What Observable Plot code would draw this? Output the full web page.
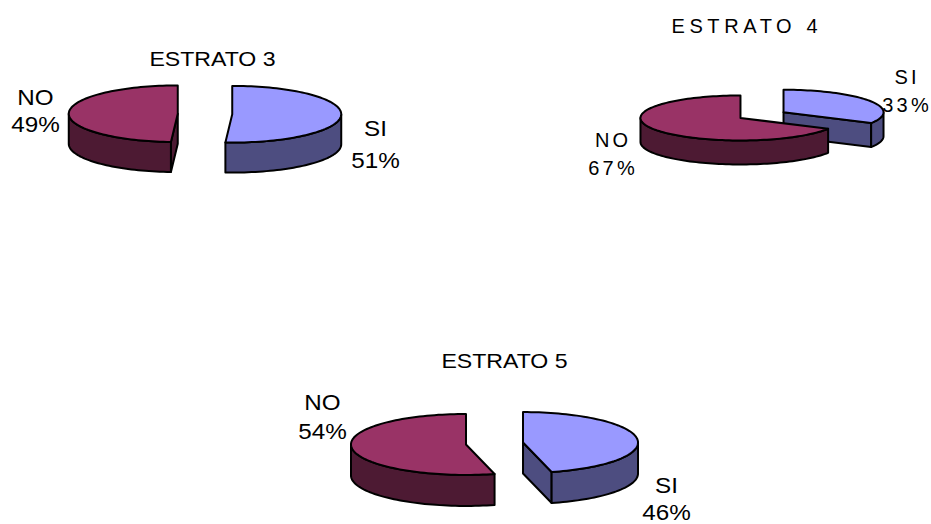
<!DOCTYPE html>
<html>
<head>
<meta charset="utf-8">
<script src="https://cdn.jsdelivr.net/npm/d3@7"></script>
<script src="https://cdn.jsdelivr.net/npm/@observablehq/plot@0.6"></script>
<style>
  html, body { margin: 0; padding: 0; background: #ffffff; }
  #chart svg { display: block; }
</style>
</head>
<body>
<div id="chart"></div>
<script>
// Respuestas SI / NO por estrato (porcentajes)
const estratos = ["ESTRATO 3", "ESTRATO 4", "ESTRATO 5"];
const categorias = ["SI", "NO"];
const si = [51, 33, 46];
const no = [49, 67, 54];

// Colores de cara superior y de costado para cada categoría
const colorTop = { SI: "#9999FF", NO: "#993366" };
const colorSide = { SI: "#4D4D80", NO: "#4D1A33" };

// Disposición de cada torta 3D: centro, radio, inclinación (k), grosor (h),
// separación de porciones y posiciones de los textos.
// ls = espaciado entre letras, sx = ensanche horizontal del texto
const layout = [
  { cx: 204.5, cy: 113.5, rx: 109, k: 0.26, h: 30, explode: 0.25,
    title: [212, 65], titleSize: 21, titleLs: 0, titleSx: 1.1,
    labels: { SI: [375, 135, 167], NO: [35, 104, 131] }, labelSize: 22, labelLs: 0, labelSx: 1.1 },
  { cx: 761.5, cy: 114.6, rx: 100, k: 0.225, h: 24, explode: 0.25,
    title: [744, 32], titleSize: 20, titleLs: 4.6, titleSx: 1,
    labels: { SI: [905, 83, 111], NO: [611, 146, 174] }, labelSize: 20, labelLs: 3.2, labelSx: 1 },
  { cx: 494, cy: 443, rx: 115, k: 0.265, h: 31, explode: 0.25,
    title: [504, 367], titleSize: 21, titleLs: 0, titleSx: 1.1,
    labels: { SI: [666, 492, 519], NO: [322, 409, 438] }, labelSize: 22, labelLs: 0, labelSx: 1.1 }
];

const rad = (d) => (d * Math.PI) / 180;

// Punto sobre el borde de la torta proyectada (ángulo en grados, horario desde las 12)
function pt(c, p, a, dz) {
  return { x: c.x + p.rx * Math.sin(rad(a)), y: c.y - p.rx * p.k * Math.cos(rad(a)) + dz };
}
function arc(c, p, a0, a1, dz) {
  const n = Math.max(2, Math.ceil(Math.abs(a1 - a0) / 2));
  const out = [];
  for (let i = 0; i <= n; i++) out.push(pt(c, p, a0 + ((a1 - a0) * i) / n, dz));
  return out;
}

// Polígonos (paredes, costados y caras superiores) en orden de pintado
const polys = [];
let pid = 0;
function addPoly(points, fill) {
  const id = pid++;
  for (const q of points) polys.push({ x: q.x, y: q.y, id, fill });
}

estratos.forEach((name, i) => {
  const p = layout[i];
  const vals = [si[i], no[i]];
  const arcs = d3.pie().sort(null).value((d) => d)(vals);
  const slices = arcs.map((s, j) => {
    const a0 = (s.startAngle * 180) / Math.PI;
    const a1 = (s.endAngle * 180) / Math.PI;
    const mid = (a0 + a1) / 2;
    const e = p.explode * p.rx;
    const c = { x: p.cx + e * Math.sin(rad(mid)), y: p.cy - e * p.k * Math.cos(rad(mid)) };
    return { cat: categorias[j], a0, a1, c };
  });
  // las porciones más al fondo se pintan primero
  slices.sort((a, b) => a.c.y - b.c.y);
  for (const s of slices) {
    const { a0, a1, c } = s;
    const side = colorSide[s.cat];
    const top = colorTop[s.cat];
    const c0 = { x: c.x, y: c.y };
    const ch = { x: c.x, y: c.y + p.h };
    if (Math.sin(rad(a0)) < -1e-6) addPoly([c0, pt(c, p, a0, 0), pt(c, p, a0, p.h), ch], side);
    if (Math.sin(rad(a1)) > 1e-6) addPoly([c0, pt(c, p, a1, 0), pt(c, p, a1, p.h), ch], side);
    const s0 = Math.max(a0, 90), s1 = Math.min(a1, 270);
    if (s1 > s0) addPoly([...arc(c, p, s0, s1, 0), ...arc(c, p, s1, s0, p.h)], side);
    addPoly([c0, ...arc(c, p, a0, a1, 0)], top);
  }
});

// Títulos y etiquetas (categoría y porcentaje)
const textRows = [];
estratos.forEach((name, i) => {
  const p = layout[i];
  textRows.push({ x: p.title[0], y: p.title[1], text: name, size: p.titleSize, ls: p.titleLs, sx: p.titleSx });
  categorias.forEach((cat, j) => {
    const v = [si[i], no[i]][j];
    const [lx, y1, y2] = p.labels[cat];
    textRows.push({ x: lx, y: y1, text: cat, size: p.labelSize, ls: p.labelLs, sx: p.labelSx });
    textRows.push({ x: lx, y: y2, text: `${v}%`, size: p.labelSize, ls: p.labelLs, sx: p.labelSx });
  });
});

const chart = Plot.plot({
  width: 931,
  height: 524,
  margin: 0,
  style: { background: "#ffffff", overflow: "visible" },
  x: { domain: [0, 931], range: [0, 931], axis: null },
  y: { domain: [0, 524], range: [0, 524], axis: null },
  color: { type: "identity" },
  marks: [
    Plot.line(polys, {
      x: "x", y: "y", z: "id", fill: "fill",
      stroke: "#000000", strokeWidth: 2, strokeLinejoin: "round",
      curve: "linear-closed"
    }),
    Plot.text(textRows, {
      x: "x", y: "y", text: "text", fontSize: "size",
      textAnchor: "middle", lineAnchor: "bottom",
      fill: "#000000", fontFamily: "Liberation Sans, Arial, sans-serif"
    })
  ]
});

document.getElementById("chart").appendChild(chart);

// espaciado y ensanche de cada rótulo
d3.select(chart).select('g[aria-label="text"]').selectAll("text")
  .each(function (_, k) {
    const r = textRows[k];
    if (r.ls) {
      this.style.letterSpacing = r.ls + "px";
      this.setAttribute("dx", r.ls / 2);
    }
    if (r.sx !== 1) {
      const w = this.getComputedTextLength();
      this.setAttribute("textLength", (w * r.sx).toFixed(1));
      this.setAttribute("lengthAdjust", "spacingAndGlyphs");
    }
  });
</script>
</body>
</html>
